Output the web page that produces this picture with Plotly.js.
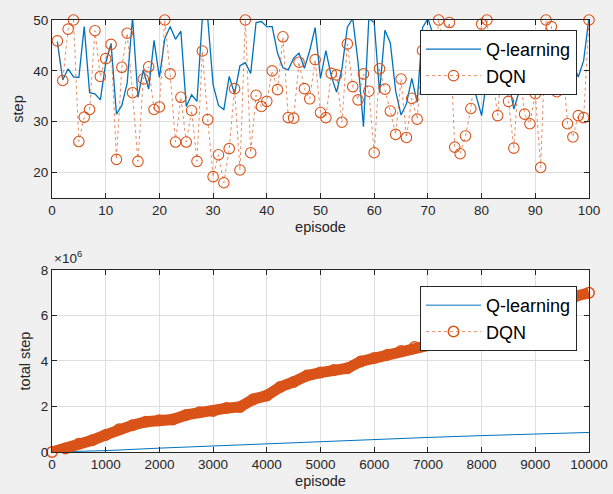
<!DOCTYPE html>
<html>
<head>
<meta charset="utf-8">
<script src="https://cdn.plot.ly/plotly-3.0.1.min.js"></script>
<style>
html,body{margin:0;padding:0;background:#f0f0f0;}
#chart{width:613px;height:494px;}
</style>
</head>
<body>
<div id="chart"></div>
<script>
// ---- top panel: step per episode (episodes 1..100) ----
const episodes = [1,2,3,4,5,6,7,8,9,10,11,12,13,14,15,16,17,18,19,20,21,22,23,24,25,26,27,28,29,30,31,32,33,34,35,36,37,38,39,40,41,42,43,44,45,46,47,48,49,50,51,52,53,54,55,56,57,58,59,60,61,62,63,64,65,66,67,68,69,70,71,72,73,74,75,76,77,78,79,80,81,82,83,84,85,86,87,88,89,90,91,92,93,94,95,96,97,98,99,100];
const qSteps = [45.7,38.2,40.4,38.8,38.7,48.7,35.7,35.5,34.3,41.5,45.4,31.5,33.2,37.6,50.5,34.8,40.2,36.4,46.0,38.7,
  46.3,48.7,46.2,47.8,33.0,35.3,34.0,50.5,50.3,37.3,33.2,32.4,38.9,35.5,41.0,41.6,39.5,49.5,49.7,48.7,
  48.7,43.5,40.6,40.2,42.5,43.5,40.5,44.0,48.5,38.5,44.0,39.0,35.8,40.5,48.6,50.3,41.6,29.0,50.3,49.5,
  35.7,48.0,45.5,36.0,31.3,33.5,38.5,33.8,48.5,50.3,47.0,44.0,42.0,40.0,46.0,42.0,35.5,38.0,35.0,31.2,
  38.5,46.0,44.0,41.0,38.0,32.5,36.0,38.0,44.0,42.0,36.5,37.5,45.0,43.0,44.0,42.0,41.5,38.8,42.0,50.5];
const dqnSteps = [45.9,38.1,48.2,50,26.1,30.9,32.4,47.9,38.9,42.4,45.2,22.6,40.7,47.4,35.7,22.2,38.4,40.8,32.4,32.9,
  50,39.4,26.0,34.8,26.0,32.2,22.2,43.9,30.4,19.2,23.5,18.0,24.7,36.5,20.5,50,23.9,35.2,33.0,34.0,
  40.0,36.3,46.7,30.8,30.7,41.7,36.5,34.5,42.2,31.8,30.8,39.5,39.2,29.9,45.3,36.9,34.3,39.4,36.0,23.9,
  40.4,36.4,32.1,27.5,38.4,26.9,34.6,30.5,44.0,40.0,37.1,50,45.0,49.5,25.0,23.7,27.2,32.6,42.0,49.2,
  50,39.0,31.2,45.0,34.0,24.8,41.0,31.5,29.6,35.5,21.0,50,48.7,35.9,43.0,29.6,27.0,31.2,30.8,50];
const topXTicks = [0,10,20,30,40,50,60,70,80,90,100];
const topYTicks = [20,30,40,50];

// ---- bottom panel: cumulative total step (in units of 10^6) ----
const qEpisodes = [0,500,1000,2000,3000,4000,5000,6000,7000,8000,9000,10000];
const qTotalM = [0,0.02,0.06,0.17,0.27,0.37,0.46,0.55,0.64,0.72,0.79,0.86];
const dqnEpisodes = [0,250,500,750,1000,1250,1500,1750,2000,2250,2500,2750,3000,3250,3500,3750,4000,4250,4500,4750,
  5000,5250,5500,5750,6000,6250,6500,6750,7000,7250,7500,7750,8000,8250,8500,8750,9000,9250,9500,9750,10000];
const dqnTotalM = [0,0.15,0.36,0.52,0.75,1.0,1.18,1.33,1.4,1.43,1.63,1.75,1.8,1.93,1.98,2.32,2.48,2.86,3.08,3.36,
  3.49,3.6,3.68,3.98,4.13,4.28,4.44,4.61,4.74,4.86,4.96,5.04,5.2,5.42,5.65,5.9,6.15,6.4,6.62,6.85,7.0];
const bottomXTicks = [0,1000,2000,3000,4000,5000,6000,7000,8000,9000,10000];
const bottomXLabels = ['0','1000','2000','3000','4000','5000','6000','7000','8000','9000','10000'];
const bottomYTicks = [0,2,4,6,8];

const blue = '#0072BD', orange = '#D95319', axisCol = '#262626', gridCol = '#dedede';
const FONT = 'Liberation Sans, Arial, Helvetica, sans-serif';

const traces = [
  {x: episodes, y: qSteps, type:'scatter', mode:'lines', name:'Q-learning',
   line:{color:blue, width:1.3}, xaxis:'x', yaxis:'y', legend:'legend'},
  {x: episodes, y: dqnSteps, type:'scatter', mode:'lines+markers', name:'DQN',
   line:{color:'rgba(217,83,25,0.75)', width:0.9, dash:'dot'},
   marker:{symbol:'circle-open', size:10.5, color:orange, line:{width:1.1, color:orange}},
   cliponaxis:false, xaxis:'x', yaxis:'y', legend:'legend'},
  {x: qEpisodes, y: qTotalM, type:'scatter', mode:'lines', name:'Q-learning',
   line:{color:blue, width:1}, xaxis:'x2', yaxis:'y2', legend:'legend2'},
  {x: dqnEpisodes, y: dqnTotalM, type:'scatter', mode:'lines', name:'DQN band', showlegend:false,
   line:{color:orange, width:11}, xaxis:'x2', yaxis:'y2'},
  {x: dqnEpisodes, y: dqnTotalM, type:'scatter', mode:'lines+markers', name:'DQN',
   line:{color:'rgba(217,83,25,0.75)', width:0.9, dash:'dot'},
   marker:{symbol:'circle-open', size:10.5, color:orange, line:{width:1.5, color:'#c44814'}},
   cliponaxis:false, xaxis:'x2', yaxis:'y2', legend:'legend2'}
];

const axBase = {
  showline:true, linecolor:axisCol, linewidth:1, mirror:'ticks',
  ticks:'inside', ticklen:5, tickcolor:axisCol, tickwidth:1,
  showgrid:true, gridcolor:gridCol, gridwidth:1, zeroline:false,
  tickfont:{family:FONT, size:13.5, color:axisCol},
  fixedrange:true
};
const titleFont = {family:FONT, size:14.5, color:axisCol};

const layout = {
  width:613, height:494,
  margin:{l:52, r:24, t:20, b:42},
  paper_bgcolor:'#f0f0f0', plot_bgcolor:'#ffffff',
  font:{family:FONT, color:axisCol},
  xaxis: Object.assign({}, axBase, {domain:[0,1], anchor:'y', range:[0,100], tickvals:topXTicks,
    title:{text:'episode', font:titleFont, standoff:4}}),
  yaxis: Object.assign({}, axBase, {domain:[0.588,1], anchor:'x', range:[15,50], tickvals:topYTicks,
    title:{text:'step', font:titleFont, standoff:6}}),
  xaxis2: Object.assign({}, axBase, {domain:[0,1], anchor:'y2', range:[0,10000], tickvals:bottomXTicks,
    ticktext:bottomXLabels, title:{text:'episode', font:titleFont, standoff:4}}),
  yaxis2: Object.assign({}, axBase, {domain:[0,0.4213], anchor:'x2', range:[0,8], tickvals:bottomYTicks,
    title:{text:'total step', font:titleFont, standoff:6}}),
  legend:{x:0.9777, y:0.9769, xanchor:'right', yanchor:'top', bgcolor:'#ffffff',
    bordercolor:axisCol, borderwidth:1, font:{family:FONT, size:18, color:'#000000'},
    itemwidth:55, tracegroupgap:0},
  legend2:{x:0.9777, y:0.3843, xanchor:'right', yanchor:'top', bgcolor:'#ffffff',
    bordercolor:axisCol, borderwidth:1, font:{family:FONT, size:18, color:'#000000'},
    itemwidth:55, tracegroupgap:0},
  annotations:[
    {xref:'paper', yref:'paper', x:0, y:0.4213, xanchor:'left', yanchor:'bottom', yshift:2, xshift:0,
     text:'×10<sup>6</sup>', showarrow:false, font:{family:FONT, size:13.5, color:axisCol}}
  ],
  showlegend:true
};

Plotly.newPlot('chart', traces, layout, {displayModeBar:false, staticPlot:true});
</script>
</body>
</html>
